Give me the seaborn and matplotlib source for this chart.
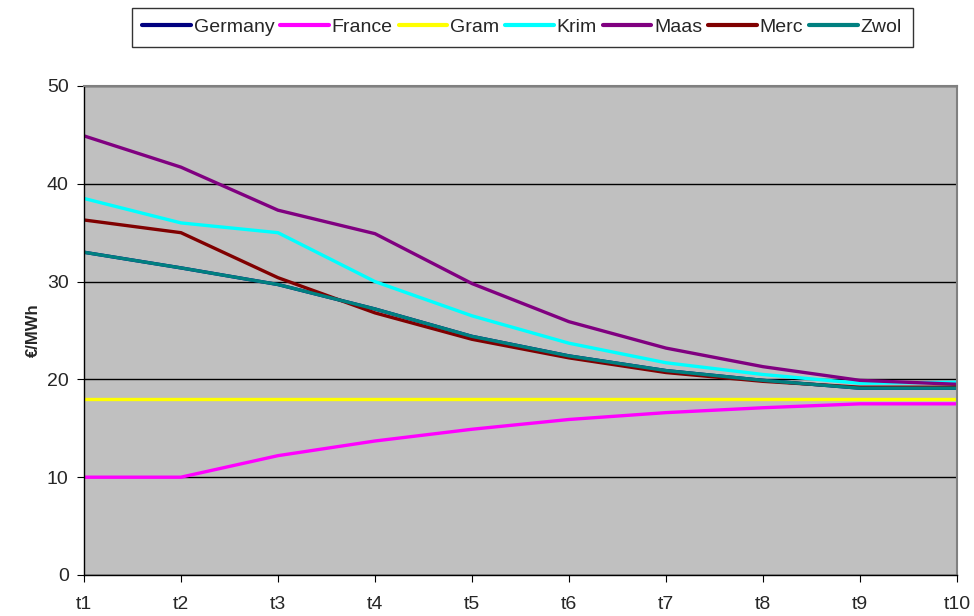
import pandas as pd
import matplotlib.pyplot as plt
import seaborn as sns

sns.set_style("ticks")
plt.rcParams['font.family'] = ['Liberation Sans', 'DejaVu Sans']

periods = ['t1', 't2', 't3', 't4', 't5', 't6', 't7', 't8', 't9', 't10']
germany = [33.0, 31.4, 29.7, 27.2, 24.4, 22.4, 20.9, 19.9, 19.1, 19.1]
france = [10.0, 10.0, 12.2, 13.7, 14.9, 15.9, 16.6, 17.1, 17.5, 17.5]
gram = [18.0, 18.0, 18.0, 18.0, 18.0, 18.0, 18.0, 18.0, 18.0, 18.0]
krim = [38.5, 36.0, 35.0, 30.0, 26.5, 23.7, 21.7, 20.5, 19.6, 19.7]
maas = [44.9, 41.7, 37.3, 34.9, 29.8, 25.9, 23.2, 21.3, 19.9, 19.5]
merc = [36.3, 35.0, 30.4, 26.8, 24.1, 22.2, 20.7, 19.8, 19.2, 19.2]
zwol = [33.0, 31.4, 29.7, 27.2, 24.4, 22.4, 20.9, 19.9, 19.1, 19.1]

series = {'Germany': germany, 'France': france, 'Gram': gram, 'Krim': krim,
          'Maas': maas, 'Merc': merc, 'Zwol': zwol}
colors = {'Germany': '#000080', 'France': '#FF00FF', 'Gram': '#FFFF00',
          'Krim': '#00FFFF', 'Maas': '#800080', 'Merc': '#800000', 'Zwol': '#008080'}

rows = []
for name, vals in series.items():
    for i, v in enumerate(vals):
        rows.append({'pos': i, 'period': periods[i], 'series': name, 'value': v})
df = pd.DataFrame(rows)

fig = plt.figure(figsize=(9.74, 6.16), dpi=100)
ax = fig.add_axes([0.0862, 0.0666, 0.8963, 0.7938])
ax.set_facecolor('#C0C0C0')

sns.lineplot(data=df, x='pos', y='value', hue='series', palette=colors,
             hue_order=list(series.keys()), linewidth=2.4, ax=ax, legend=False)

ax.set_xlim(0, len(periods) - 1)
ax.set_ylim(0, 50)
ax.set_xticks(range(len(periods)))
ax.set_xticklabels(periods)
ax.set_yticks([0, 10, 20, 30, 40, 50])
ax.yaxis.grid(True, color='black', linewidth=1)
ax.set_axisbelow(True)
ax.tick_params(axis='x', labelsize=14, length=5, color='black', pad=10)
ax.tick_params(axis='y', labelsize=14, length=5, color='black', pad=6)
ax.set_xlabel('')
ax.set_ylabel('€/MWh', fontsize=12, fontweight='bold', labelpad=4)
for s in ['left', 'bottom']:
    ax.spines[s].set_color('black')
    ax.spines[s].set_linewidth(1)
for s in ['top', 'right']:
    ax.spines[s].set_color('#808080')
    ax.spines[s].set_linewidth(1.5)

handles = [plt.Line2D([], [], color=colors[n], linewidth=3) for n in series]
leg = fig.legend(handles, list(series.keys()), loc='upper center',
                 bbox_to_anchor=(0.536, 0.997), ncol=7, fontsize=14,
                 frameon=True, fancybox=False, edgecolor='black',
                 handlelength=2.5, handletextpad=0.15, columnspacing=0.3,
                 borderpad=0.55, borderaxespad=0.3)
leg.get_frame().set_linewidth(1)

fig.savefig('out.png', dpi=100)
